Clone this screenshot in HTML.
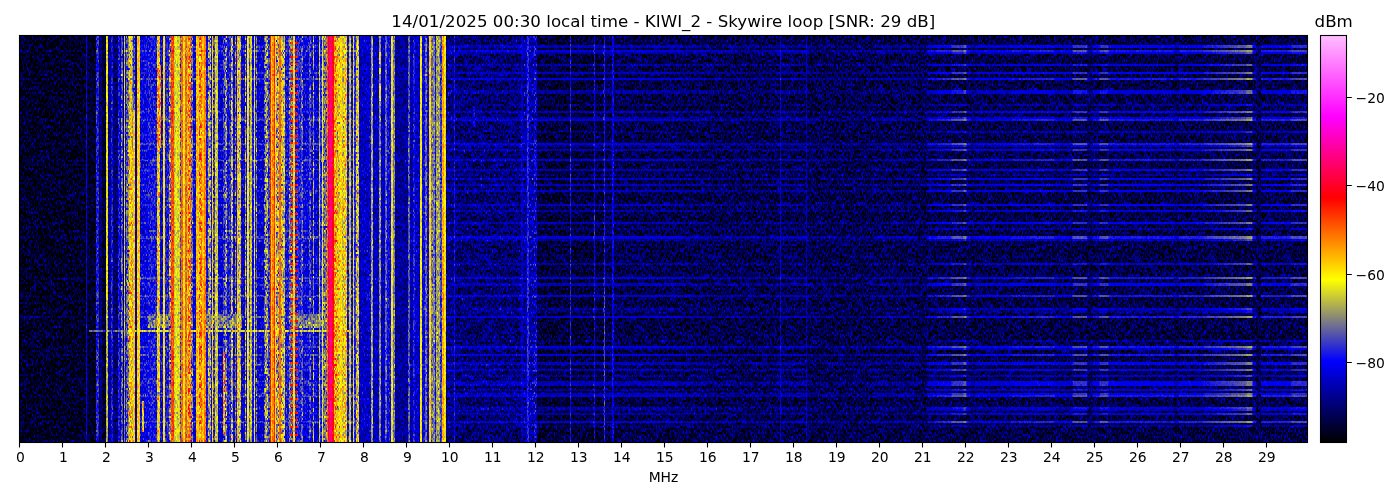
<!DOCTYPE html>
<html lang="en"><head><meta charset="utf-8"><title>KIWI_2 spectrogram</title>
<style>html,body{margin:0;padding:0;background:#fff}svg{display:block}text{font-family:"DejaVu Sans","Liberation Sans",sans-serif;fill:#000}.l{mix-blend-mode:lighten}</style></head><body>
<svg width="1400" height="500" viewBox="0 0 1400 500">
<defs>
<filter id="sp" filterUnits="userSpaceOnUse" x="19.5" y="35" width="1287" height="406" color-interpolation-filters="sRGB">
<feTurbulence type="fractalNoise" baseFrequency="3.37 2.71" numOctaves="1" seed="7" result="n"/>
<feColorMatrix in="n" type="matrix" values="1 0 0 0 0 1 0 0 0 0 1 0 0 0 0 0 0 0 0 1" result="n1"/>
<feFlood flood-color="#fff" x="19.5" y="35" width="1287" height="1" result="fl"/>
<feOffset in="fl" dx="0" dy="0" x="19.5" y="35" width="1287" height="2" result="tl"/>
<feTile in="tl" result="msk"/>
<feComposite in="n1" in2="msk" operator="in" result="r0"/>
<feOffset in="r0" dx="0" dy="1" result="r1"/>
<feMerge result="nm"><feMergeNode in="r0"/><feMergeNode in="r1"/></feMerge>
<feConvolveMatrix in="nm" order="3 1" kernelMatrix="0.07 0.86 0.07" edgeMode="duplicate" preserveAlpha="true" result="ng"/>
<feColorMatrix in="SourceGraphic" type="matrix" values="1 0 0 0 0 1 0 0 0 0 1 0 0 0 0 0 0 0 0 1" result="lvl"/>
<feColorMatrix in="SourceGraphic" type="matrix" values="0 1 0 0 0 0 1 0 0 0 0 1 0 0 0 0 0 0 0 1" result="amp"/>
<feComposite in="ng" in2="amp" operator="arithmetic" k1="1.0" k2="0" k3="-0.5" k4="0.5" result="dn"/>
<feComposite in="lvl" in2="dn" operator="arithmetic" k1="0" k2="1" k3="1" k4="-0.5" result="s"/>
<feComponentTransfer in="s"><feFuncR type="table" tableValues="0 0 1 1 1 1"/><feFuncG type="table" tableValues="0 0 1 0 0 1"/><feFuncB type="table" tableValues="0 1 0 0 1 1"/></feComponentTransfer>
</filter>
<linearGradient id="b0" gradientUnits="userSpaceOnUse" x1="446" y1="0" x2="1308" y2="0"><stop offset="0.0000" stop-color="#674c00"/><stop offset="0.0000" stop-color="#198500"/><stop offset="0.0023" stop-color="#276000"/><stop offset="0.0093" stop-color="#276000"/><stop offset="0.0093" stop-color="#354200"/><stop offset="0.0104" stop-color="#354200"/><stop offset="0.0104" stop-color="#265600"/><stop offset="0.0864" stop-color="#265600"/><stop offset="0.0864" stop-color="#2d4200"/><stop offset="0.0893" stop-color="#2d4200"/><stop offset="0.0893" stop-color="#286f00"/><stop offset="0.0928" stop-color="#286f00"/><stop offset="0.0928" stop-color="#2c4200"/><stop offset="0.0940" stop-color="#2c4200"/><stop offset="0.0940" stop-color="#3c4200"/><stop offset="0.0957" stop-color="#3c4200"/><stop offset="0.0957" stop-color="#2a8100"/><stop offset="0.1015" stop-color="#2a8100"/><stop offset="0.1015" stop-color="#2f8500"/><stop offset="0.1056" stop-color="#2f8500"/><stop offset="0.1056" stop-color="#242500"/><stop offset="0.1439" stop-color="#242500"/><stop offset="0.1439" stop-color="#374200"/><stop offset="0.1450" stop-color="#374200"/><stop offset="0.1450" stop-color="#242500"/><stop offset="0.1711" stop-color="#242500"/><stop offset="0.1711" stop-color="#334200"/><stop offset="0.1729" stop-color="#334200"/><stop offset="0.1729" stop-color="#242500"/><stop offset="0.1827" stop-color="#242500"/><stop offset="0.1827" stop-color="#374200"/><stop offset="0.1845" stop-color="#374200"/><stop offset="0.1845" stop-color="#253800"/><stop offset="0.1926" stop-color="#253800"/><stop offset="0.1926" stop-color="#334200"/><stop offset="0.1943" stop-color="#334200"/><stop offset="0.1943" stop-color="#253800"/><stop offset="0.2715" stop-color="#253800"/><stop offset="0.2761" stop-color="#205000"/><stop offset="0.3028" stop-color="#205000"/><stop offset="0.3063" stop-color="#1b6b00"/><stop offset="0.3179" stop-color="#1b6b00"/><stop offset="0.3179" stop-color="#1b6d00"/><stop offset="0.3817" stop-color="#1b6d00"/><stop offset="0.3840" stop-color="#214c00"/><stop offset="0.3875" stop-color="#214c00"/><stop offset="0.3875" stop-color="#2e4200"/><stop offset="0.3886" stop-color="#2e4200"/><stop offset="0.3886" stop-color="#214a00"/><stop offset="0.4165" stop-color="#214a00"/><stop offset="0.4176" stop-color="#1e5d00"/><stop offset="0.4176" stop-color="#284200"/><stop offset="0.4188" stop-color="#274200"/><stop offset="0.4188" stop-color="#1a6e00"/><stop offset="0.4200" stop-color="#187d00"/><stop offset="0.4930" stop-color="#187d00"/><stop offset="0.4965" stop-color="#1e5b00"/><stop offset="0.5476" stop-color="#1e5b00"/><stop offset="0.5487" stop-color="#158500"/><stop offset="0.5568" stop-color="#158500"/><stop offset="0.5592" stop-color="#2d1400"/><stop offset="0.5696" stop-color="#2d1400"/><stop offset="0.5708" stop-color="#321400"/><stop offset="0.5858" stop-color="#321400"/><stop offset="0.5870" stop-color="#3c1400"/><stop offset="0.5998" stop-color="#3c1400"/><stop offset="0.6009" stop-color="#451400"/><stop offset="0.6032" stop-color="#451400"/><stop offset="0.6044" stop-color="#301400"/><stop offset="0.6079" stop-color="#301400"/><stop offset="0.6090" stop-color="#233e00"/><stop offset="0.6137" stop-color="#233e00"/><stop offset="0.6148" stop-color="#2b1700"/><stop offset="0.6555" stop-color="#2b1700"/><stop offset="0.6566" stop-color="#301400"/><stop offset="0.6833" stop-color="#301400"/><stop offset="0.6845" stop-color="#321400"/><stop offset="0.7053" stop-color="#321400"/><stop offset="0.7065" stop-color="#2b1700"/><stop offset="0.7262" stop-color="#2b1700"/><stop offset="0.7274" stop-color="#3c1400"/><stop offset="0.7436" stop-color="#3c1400"/><stop offset="0.7448" stop-color="#1f5600"/><stop offset="0.7494" stop-color="#1f5600"/><stop offset="0.7506" stop-color="#301400"/><stop offset="0.7575" stop-color="#301400"/><stop offset="0.7587" stop-color="#3c1400"/><stop offset="0.7680" stop-color="#3c1400"/><stop offset="0.7691" stop-color="#301400"/><stop offset="0.8445" stop-color="#301400"/><stop offset="0.8457" stop-color="#263200"/><stop offset="0.8492" stop-color="#263200"/><stop offset="0.8503" stop-color="#311400"/><stop offset="0.8782" stop-color="#311400"/><stop offset="0.8794" stop-color="#351400"/><stop offset="0.9037" stop-color="#3d1400"/><stop offset="0.9281" stop-color="#451400"/><stop offset="0.9292" stop-color="#4c1400"/><stop offset="0.9350" stop-color="#4c1400"/><stop offset="0.9362" stop-color="#301400"/><stop offset="0.9397" stop-color="#301400"/><stop offset="0.9408" stop-color="#118500"/><stop offset="0.9449" stop-color="#118500"/><stop offset="0.9461" stop-color="#311400"/><stop offset="0.9791" stop-color="#311400"/><stop offset="0.9814" stop-color="#3b1400"/><stop offset="1.0000" stop-color="#3b1400"/></linearGradient>
<linearGradient id="b1" gradientUnits="userSpaceOnUse" x1="446" y1="0" x2="1308" y2="0"><stop offset="0.0000" stop-color="#674c00"/><stop offset="0.0000" stop-color="#1a8500"/><stop offset="0.0023" stop-color="#2c4400"/><stop offset="0.0093" stop-color="#2c4400"/><stop offset="0.0093" stop-color="#374200"/><stop offset="0.0104" stop-color="#374200"/><stop offset="0.0104" stop-color="#2c3800"/><stop offset="0.0864" stop-color="#2c3800"/><stop offset="0.0864" stop-color="#313e00"/><stop offset="0.0893" stop-color="#313e00"/><stop offset="0.0893" stop-color="#2d5600"/><stop offset="0.0928" stop-color="#2d5600"/><stop offset="0.0928" stop-color="#2f3a00"/><stop offset="0.0940" stop-color="#2f3a00"/><stop offset="0.0940" stop-color="#3d4200"/><stop offset="0.0957" stop-color="#3d4200"/><stop offset="0.0957" stop-color="#2e6b00"/><stop offset="0.1015" stop-color="#2e6b00"/><stop offset="0.1015" stop-color="#328400"/><stop offset="0.1056" stop-color="#328400"/><stop offset="0.1056" stop-color="#2a1400"/><stop offset="0.1439" stop-color="#2a1400"/><stop offset="0.1439" stop-color="#394200"/><stop offset="0.1450" stop-color="#394200"/><stop offset="0.1450" stop-color="#2a1400"/><stop offset="0.1711" stop-color="#2a1400"/><stop offset="0.1711" stop-color="#354200"/><stop offset="0.1729" stop-color="#354200"/><stop offset="0.1729" stop-color="#2a1400"/><stop offset="0.1827" stop-color="#2a1400"/><stop offset="0.1827" stop-color="#394200"/><stop offset="0.1845" stop-color="#394200"/><stop offset="0.1845" stop-color="#2b1700"/><stop offset="0.1926" stop-color="#2b1700"/><stop offset="0.1926" stop-color="#354200"/><stop offset="0.1943" stop-color="#354200"/><stop offset="0.1943" stop-color="#2b1700"/><stop offset="0.2715" stop-color="#2b1700"/><stop offset="0.2761" stop-color="#263200"/><stop offset="0.3028" stop-color="#263200"/><stop offset="0.3063" stop-color="#205000"/><stop offset="0.3179" stop-color="#205000"/><stop offset="0.3179" stop-color="#205200"/><stop offset="0.3817" stop-color="#205200"/><stop offset="0.3840" stop-color="#272e00"/><stop offset="0.3875" stop-color="#272e00"/><stop offset="0.3875" stop-color="#304200"/><stop offset="0.3886" stop-color="#304200"/><stop offset="0.3886" stop-color="#272b00"/><stop offset="0.4165" stop-color="#272b00"/><stop offset="0.4176" stop-color="#234000"/><stop offset="0.4176" stop-color="#2b4200"/><stop offset="0.4188" stop-color="#294200"/><stop offset="0.4188" stop-color="#1f5400"/><stop offset="0.4200" stop-color="#1c6600"/><stop offset="0.4930" stop-color="#1c6600"/><stop offset="0.4965" stop-color="#233e00"/><stop offset="0.5476" stop-color="#233e00"/><stop offset="0.5487" stop-color="#187800"/><stop offset="0.5568" stop-color="#187800"/><stop offset="0.5592" stop-color="#341400"/><stop offset="0.5696" stop-color="#341400"/><stop offset="0.5708" stop-color="#391400"/><stop offset="0.5858" stop-color="#391400"/><stop offset="0.5870" stop-color="#431400"/><stop offset="0.5998" stop-color="#431400"/><stop offset="0.6009" stop-color="#4c1400"/><stop offset="0.6032" stop-color="#4c1400"/><stop offset="0.6044" stop-color="#361400"/><stop offset="0.6079" stop-color="#361400"/><stop offset="0.6090" stop-color="#291e00"/><stop offset="0.6137" stop-color="#291e00"/><stop offset="0.6148" stop-color="#311400"/><stop offset="0.6555" stop-color="#311400"/><stop offset="0.6566" stop-color="#361400"/><stop offset="0.6833" stop-color="#361400"/><stop offset="0.6845" stop-color="#391400"/><stop offset="0.7053" stop-color="#391400"/><stop offset="0.7065" stop-color="#311400"/><stop offset="0.7262" stop-color="#311400"/><stop offset="0.7274" stop-color="#431400"/><stop offset="0.7436" stop-color="#431400"/><stop offset="0.7448" stop-color="#253800"/><stop offset="0.7494" stop-color="#253800"/><stop offset="0.7506" stop-color="#361400"/><stop offset="0.7575" stop-color="#361400"/><stop offset="0.7587" stop-color="#431400"/><stop offset="0.7680" stop-color="#431400"/><stop offset="0.7691" stop-color="#361400"/><stop offset="0.8445" stop-color="#361400"/><stop offset="0.8457" stop-color="#2c1400"/><stop offset="0.8492" stop-color="#2c1400"/><stop offset="0.8503" stop-color="#381400"/><stop offset="0.8782" stop-color="#381400"/><stop offset="0.8794" stop-color="#3c1400"/><stop offset="0.9037" stop-color="#441400"/><stop offset="0.9281" stop-color="#4c1400"/><stop offset="0.9292" stop-color="#531400"/><stop offset="0.9350" stop-color="#531400"/><stop offset="0.9362" stop-color="#361400"/><stop offset="0.9397" stop-color="#361400"/><stop offset="0.9408" stop-color="#128500"/><stop offset="0.9449" stop-color="#128500"/><stop offset="0.9461" stop-color="#381400"/><stop offset="0.9791" stop-color="#381400"/><stop offset="0.9814" stop-color="#411400"/><stop offset="1.0000" stop-color="#411400"/></linearGradient>
<linearGradient id="b2" gradientUnits="userSpaceOnUse" x1="446" y1="0" x2="1308" y2="0"><stop offset="0.0000" stop-color="#674c00"/><stop offset="0.0000" stop-color="#188500"/><stop offset="0.0023" stop-color="#237400"/><stop offset="0.0093" stop-color="#237400"/><stop offset="0.0093" stop-color="#344200"/><stop offset="0.0104" stop-color="#344200"/><stop offset="0.0104" stop-color="#226b00"/><stop offset="0.0864" stop-color="#226b00"/><stop offset="0.0864" stop-color="#2b4200"/><stop offset="0.0893" stop-color="#2b4200"/><stop offset="0.0893" stop-color="#258100"/><stop offset="0.0928" stop-color="#258100"/><stop offset="0.0928" stop-color="#294200"/><stop offset="0.0940" stop-color="#294200"/><stop offset="0.0940" stop-color="#3b4200"/><stop offset="0.0957" stop-color="#3b4200"/><stop offset="0.0957" stop-color="#288500"/><stop offset="0.1015" stop-color="#288500"/><stop offset="0.1015" stop-color="#2d8500"/><stop offset="0.1056" stop-color="#2d8500"/><stop offset="0.1056" stop-color="#1f3e00"/><stop offset="0.1439" stop-color="#1f3e00"/><stop offset="0.1439" stop-color="#364200"/><stop offset="0.1450" stop-color="#364200"/><stop offset="0.1450" stop-color="#1f3e00"/><stop offset="0.1711" stop-color="#1f3e00"/><stop offset="0.1711" stop-color="#324200"/><stop offset="0.1729" stop-color="#324200"/><stop offset="0.1729" stop-color="#1f3e00"/><stop offset="0.1827" stop-color="#1f3e00"/><stop offset="0.1827" stop-color="#364200"/><stop offset="0.1845" stop-color="#364200"/><stop offset="0.1845" stop-color="#205000"/><stop offset="0.1926" stop-color="#205000"/><stop offset="0.1926" stop-color="#324200"/><stop offset="0.1943" stop-color="#324200"/><stop offset="0.1943" stop-color="#205000"/><stop offset="0.2715" stop-color="#205000"/><stop offset="0.2761" stop-color="#1c6600"/><stop offset="0.3028" stop-color="#1c6600"/><stop offset="0.3063" stop-color="#187d00"/><stop offset="0.3179" stop-color="#187d00"/><stop offset="0.3179" stop-color="#187e00"/><stop offset="0.3817" stop-color="#187e00"/><stop offset="0.3840" stop-color="#1d6300"/><stop offset="0.3875" stop-color="#1d6300"/><stop offset="0.3875" stop-color="#2c4200"/><stop offset="0.3886" stop-color="#2c4200"/><stop offset="0.3886" stop-color="#1d6000"/><stop offset="0.4165" stop-color="#1d6000"/><stop offset="0.4176" stop-color="#1a7100"/><stop offset="0.4176" stop-color="#274200"/><stop offset="0.4188" stop-color="#264200"/><stop offset="0.4188" stop-color="#177f00"/><stop offset="0.4200" stop-color="#158500"/><stop offset="0.4930" stop-color="#158500"/><stop offset="0.4965" stop-color="#1a6f00"/><stop offset="0.5476" stop-color="#1a6f00"/><stop offset="0.5487" stop-color="#138500"/><stop offset="0.5568" stop-color="#138500"/><stop offset="0.5592" stop-color="#282500"/><stop offset="0.5696" stop-color="#282500"/><stop offset="0.5708" stop-color="#2d1400"/><stop offset="0.5858" stop-color="#2d1400"/><stop offset="0.5870" stop-color="#361400"/><stop offset="0.5998" stop-color="#361400"/><stop offset="0.6009" stop-color="#401400"/><stop offset="0.6032" stop-color="#401400"/><stop offset="0.6044" stop-color="#2b1700"/><stop offset="0.6079" stop-color="#2b1700"/><stop offset="0.6090" stop-color="#1f5600"/><stop offset="0.6137" stop-color="#1f5600"/><stop offset="0.6148" stop-color="#263200"/><stop offset="0.6555" stop-color="#263200"/><stop offset="0.6566" stop-color="#2b1700"/><stop offset="0.6833" stop-color="#2b1700"/><stop offset="0.6845" stop-color="#2d1400"/><stop offset="0.7053" stop-color="#2d1400"/><stop offset="0.7065" stop-color="#263200"/><stop offset="0.7262" stop-color="#263200"/><stop offset="0.7274" stop-color="#361400"/><stop offset="0.7436" stop-color="#361400"/><stop offset="0.7448" stop-color="#1b6b00"/><stop offset="0.7494" stop-color="#1b6b00"/><stop offset="0.7506" stop-color="#2b1700"/><stop offset="0.7575" stop-color="#2b1700"/><stop offset="0.7587" stop-color="#361400"/><stop offset="0.7680" stop-color="#361400"/><stop offset="0.7691" stop-color="#2b1700"/><stop offset="0.8445" stop-color="#2b1700"/><stop offset="0.8457" stop-color="#214a00"/><stop offset="0.8492" stop-color="#214a00"/><stop offset="0.8503" stop-color="#2c1400"/><stop offset="0.8782" stop-color="#2c1400"/><stop offset="0.8794" stop-color="#301400"/><stop offset="0.9037" stop-color="#381400"/><stop offset="0.9281" stop-color="#401400"/><stop offset="0.9292" stop-color="#471400"/><stop offset="0.9350" stop-color="#471400"/><stop offset="0.9362" stop-color="#2b1700"/><stop offset="0.9397" stop-color="#2b1700"/><stop offset="0.9408" stop-color="#108500"/><stop offset="0.9449" stop-color="#108500"/><stop offset="0.9461" stop-color="#2c1400"/><stop offset="0.9791" stop-color="#2c1400"/><stop offset="0.9814" stop-color="#351400"/><stop offset="1.0000" stop-color="#351400"/></linearGradient>
<linearGradient id="b3" gradientUnits="userSpaceOnUse" x1="446" y1="0" x2="1308" y2="0"><stop offset="0.0000" stop-color="#674c00"/><stop offset="0.0000" stop-color="#188500"/><stop offset="0.0023" stop-color="#1c8500"/><stop offset="0.0093" stop-color="#1c8500"/><stop offset="0.0093" stop-color="#324200"/><stop offset="0.0104" stop-color="#324200"/><stop offset="0.0104" stop-color="#1a8500"/><stop offset="0.0864" stop-color="#1a8500"/><stop offset="0.0864" stop-color="#284200"/><stop offset="0.0893" stop-color="#284200"/><stop offset="0.0893" stop-color="#1f8500"/><stop offset="0.0928" stop-color="#1f8500"/><stop offset="0.0928" stop-color="#264200"/><stop offset="0.0940" stop-color="#264200"/><stop offset="0.0940" stop-color="#3a4200"/><stop offset="0.0957" stop-color="#3a4200"/><stop offset="0.0957" stop-color="#238500"/><stop offset="0.1015" stop-color="#238500"/><stop offset="0.1015" stop-color="#2b8500"/><stop offset="0.1056" stop-color="#2b8500"/><stop offset="0.1056" stop-color="#147d00"/><stop offset="0.1439" stop-color="#147d00"/><stop offset="0.1439" stop-color="#354200"/><stop offset="0.1450" stop-color="#354200"/><stop offset="0.1450" stop-color="#147d00"/><stop offset="0.1711" stop-color="#147d00"/><stop offset="0.1711" stop-color="#304200"/><stop offset="0.1729" stop-color="#304200"/><stop offset="0.1729" stop-color="#147d00"/><stop offset="0.1827" stop-color="#147d00"/><stop offset="0.1827" stop-color="#354200"/><stop offset="0.1845" stop-color="#354200"/><stop offset="0.1845" stop-color="#168500"/><stop offset="0.1926" stop-color="#168500"/><stop offset="0.1926" stop-color="#304200"/><stop offset="0.1943" stop-color="#304200"/><stop offset="0.1943" stop-color="#168500"/><stop offset="0.2715" stop-color="#168500"/><stop offset="0.2761" stop-color="#138500"/><stop offset="0.3028" stop-color="#138500"/><stop offset="0.3063" stop-color="#118500"/><stop offset="0.3179" stop-color="#118500"/><stop offset="0.3179" stop-color="#128500"/><stop offset="0.3817" stop-color="#128500"/><stop offset="0.3840" stop-color="#148500"/><stop offset="0.3875" stop-color="#148500"/><stop offset="0.3875" stop-color="#2a4200"/><stop offset="0.3886" stop-color="#2a4200"/><stop offset="0.3886" stop-color="#148500"/><stop offset="0.4165" stop-color="#148500"/><stop offset="0.4176" stop-color="#128500"/><stop offset="0.4176" stop-color="#254200"/><stop offset="0.4188" stop-color="#254200"/><stop offset="0.4188" stop-color="#118500"/><stop offset="0.4200" stop-color="#108500"/><stop offset="0.4930" stop-color="#108500"/><stop offset="0.4965" stop-color="#128500"/><stop offset="0.5476" stop-color="#128500"/><stop offset="0.5487" stop-color="#0f8500"/><stop offset="0.5568" stop-color="#0f8500"/><stop offset="0.5592" stop-color="#1b6b00"/><stop offset="0.5696" stop-color="#1b6b00"/><stop offset="0.5708" stop-color="#1f5600"/><stop offset="0.5858" stop-color="#1f5600"/><stop offset="0.5870" stop-color="#272b00"/><stop offset="0.5998" stop-color="#272b00"/><stop offset="0.6009" stop-color="#301400"/><stop offset="0.6032" stop-color="#301400"/><stop offset="0.6044" stop-color="#1d6000"/><stop offset="0.6079" stop-color="#1d6000"/><stop offset="0.6090" stop-color="#158500"/><stop offset="0.6137" stop-color="#158500"/><stop offset="0.6148" stop-color="#197400"/><stop offset="0.6555" stop-color="#197400"/><stop offset="0.6566" stop-color="#1d6000"/><stop offset="0.6833" stop-color="#1d6000"/><stop offset="0.6845" stop-color="#1f5600"/><stop offset="0.7053" stop-color="#1f5600"/><stop offset="0.7065" stop-color="#197400"/><stop offset="0.7262" stop-color="#197400"/><stop offset="0.7274" stop-color="#272b00"/><stop offset="0.7436" stop-color="#272b00"/><stop offset="0.7448" stop-color="#138500"/><stop offset="0.7494" stop-color="#138500"/><stop offset="0.7506" stop-color="#1d6000"/><stop offset="0.7575" stop-color="#1d6000"/><stop offset="0.7587" stop-color="#272b00"/><stop offset="0.7680" stop-color="#272b00"/><stop offset="0.7691" stop-color="#1d6000"/><stop offset="0.8445" stop-color="#1d6000"/><stop offset="0.8457" stop-color="#168400"/><stop offset="0.8492" stop-color="#168400"/><stop offset="0.8503" stop-color="#1e5b00"/><stop offset="0.8782" stop-color="#1e5b00"/><stop offset="0.8794" stop-color="#214a00"/><stop offset="0.9037" stop-color="#282500"/><stop offset="0.9281" stop-color="#301400"/><stop offset="0.9292" stop-color="#361400"/><stop offset="0.9350" stop-color="#361400"/><stop offset="0.9362" stop-color="#1d6000"/><stop offset="0.9397" stop-color="#1d6000"/><stop offset="0.9408" stop-color="#0e8500"/><stop offset="0.9449" stop-color="#0e8500"/><stop offset="0.9461" stop-color="#1e5b00"/><stop offset="0.9791" stop-color="#1e5b00"/><stop offset="0.9814" stop-color="#263200"/><stop offset="1.0000" stop-color="#263200"/></linearGradient>
<linearGradient id="b4" gradientUnits="userSpaceOnUse" x1="446" y1="0" x2="1308" y2="0"><stop offset="0.0000" stop-color="#674c00"/><stop offset="0.0000" stop-color="#188500"/><stop offset="0.0023" stop-color="#1d8500"/><stop offset="0.0093" stop-color="#1d8500"/><stop offset="0.0093" stop-color="#334200"/><stop offset="0.0104" stop-color="#334200"/><stop offset="0.0104" stop-color="#1c8500"/><stop offset="0.0864" stop-color="#1c8500"/><stop offset="0.0864" stop-color="#294200"/><stop offset="0.0893" stop-color="#294200"/><stop offset="0.0893" stop-color="#208500"/><stop offset="0.0928" stop-color="#208500"/><stop offset="0.0928" stop-color="#264200"/><stop offset="0.0940" stop-color="#264200"/><stop offset="0.0940" stop-color="#3b4200"/><stop offset="0.0957" stop-color="#3b4200"/><stop offset="0.0957" stop-color="#248500"/><stop offset="0.1015" stop-color="#248500"/><stop offset="0.1015" stop-color="#2b8500"/><stop offset="0.1056" stop-color="#2b8500"/><stop offset="0.1056" stop-color="#176b00"/><stop offset="0.1439" stop-color="#176b00"/><stop offset="0.1439" stop-color="#354200"/><stop offset="0.1450" stop-color="#354200"/><stop offset="0.1450" stop-color="#176b00"/><stop offset="0.1711" stop-color="#176b00"/><stop offset="0.1711" stop-color="#304200"/><stop offset="0.1729" stop-color="#304200"/><stop offset="0.1729" stop-color="#176b00"/><stop offset="0.1827" stop-color="#176b00"/><stop offset="0.1827" stop-color="#354200"/><stop offset="0.1845" stop-color="#354200"/><stop offset="0.1845" stop-color="#187800"/><stop offset="0.1926" stop-color="#187800"/><stop offset="0.1926" stop-color="#304200"/><stop offset="0.1943" stop-color="#304200"/><stop offset="0.1943" stop-color="#187800"/><stop offset="0.2715" stop-color="#187800"/><stop offset="0.2761" stop-color="#168500"/><stop offset="0.3028" stop-color="#168500"/><stop offset="0.3063" stop-color="#138500"/><stop offset="0.3179" stop-color="#138500"/><stop offset="0.3817" stop-color="#138500"/><stop offset="0.3840" stop-color="#168500"/><stop offset="0.3875" stop-color="#168500"/><stop offset="0.3875" stop-color="#2b4200"/><stop offset="0.3886" stop-color="#2b4200"/><stop offset="0.3886" stop-color="#168400"/><stop offset="0.4165" stop-color="#168400"/><stop offset="0.4176" stop-color="#148500"/><stop offset="0.4176" stop-color="#254200"/><stop offset="0.4188" stop-color="#254200"/><stop offset="0.4188" stop-color="#128500"/><stop offset="0.4200" stop-color="#118500"/><stop offset="0.4930" stop-color="#118500"/><stop offset="0.4965" stop-color="#148500"/><stop offset="0.5476" stop-color="#148500"/><stop offset="0.5487" stop-color="#108500"/><stop offset="0.5568" stop-color="#108500"/><stop offset="0.5592" stop-color="#1f5600"/><stop offset="0.5696" stop-color="#1f5600"/><stop offset="0.5708" stop-color="#233e00"/><stop offset="0.5858" stop-color="#233e00"/><stop offset="0.5870" stop-color="#2c1400"/><stop offset="0.5998" stop-color="#2c1400"/><stop offset="0.6009" stop-color="#351400"/><stop offset="0.6032" stop-color="#351400"/><stop offset="0.6044" stop-color="#214a00"/><stop offset="0.6079" stop-color="#214a00"/><stop offset="0.6090" stop-color="#187d00"/><stop offset="0.6137" stop-color="#187d00"/><stop offset="0.6148" stop-color="#1d6000"/><stop offset="0.6555" stop-color="#1d6000"/><stop offset="0.6566" stop-color="#214a00"/><stop offset="0.6833" stop-color="#214a00"/><stop offset="0.6845" stop-color="#233e00"/><stop offset="0.7053" stop-color="#233e00"/><stop offset="0.7065" stop-color="#1d6000"/><stop offset="0.7262" stop-color="#1d6000"/><stop offset="0.7274" stop-color="#2c1400"/><stop offset="0.7436" stop-color="#2c1400"/><stop offset="0.7448" stop-color="#158500"/><stop offset="0.7494" stop-color="#158500"/><stop offset="0.7506" stop-color="#214a00"/><stop offset="0.7575" stop-color="#214a00"/><stop offset="0.7587" stop-color="#2c1400"/><stop offset="0.7680" stop-color="#2c1400"/><stop offset="0.7691" stop-color="#214a00"/><stop offset="0.8445" stop-color="#214a00"/><stop offset="0.8457" stop-color="#197400"/><stop offset="0.8492" stop-color="#197400"/><stop offset="0.8503" stop-color="#224400"/><stop offset="0.8782" stop-color="#224400"/><stop offset="0.8794" stop-color="#263200"/><stop offset="0.9037" stop-color="#2d1400"/><stop offset="0.9281" stop-color="#351400"/><stop offset="0.9292" stop-color="#3c1400"/><stop offset="0.9350" stop-color="#3c1400"/><stop offset="0.9362" stop-color="#214a00"/><stop offset="0.9397" stop-color="#214a00"/><stop offset="0.9408" stop-color="#0f8500"/><stop offset="0.9449" stop-color="#0f8500"/><stop offset="0.9461" stop-color="#224400"/><stop offset="0.9791" stop-color="#224400"/><stop offset="0.9814" stop-color="#2b1700"/><stop offset="1.0000" stop-color="#2b1700"/></linearGradient>
<linearGradient id="b5" gradientUnits="userSpaceOnUse" x1="446" y1="0" x2="1308" y2="0"><stop offset="0.0000" stop-color="#674c00"/><stop offset="0.0000" stop-color="#188500"/><stop offset="0.0023" stop-color="#208400"/><stop offset="0.0093" stop-color="#208400"/><stop offset="0.0093" stop-color="#334200"/><stop offset="0.0104" stop-color="#334200"/><stop offset="0.0104" stop-color="#1f7d00"/><stop offset="0.0864" stop-color="#1f7d00"/><stop offset="0.0864" stop-color="#2a4200"/><stop offset="0.0893" stop-color="#2a4200"/><stop offset="0.0893" stop-color="#228500"/><stop offset="0.0928" stop-color="#228500"/><stop offset="0.0928" stop-color="#284200"/><stop offset="0.0940" stop-color="#284200"/><stop offset="0.0940" stop-color="#3b4200"/><stop offset="0.0957" stop-color="#3b4200"/><stop offset="0.0957" stop-color="#268500"/><stop offset="0.1015" stop-color="#268500"/><stop offset="0.1015" stop-color="#2c8500"/><stop offset="0.1056" stop-color="#2c8500"/><stop offset="0.1056" stop-color="#1b5600"/><stop offset="0.1439" stop-color="#1b5600"/><stop offset="0.1439" stop-color="#364200"/><stop offset="0.1450" stop-color="#364200"/><stop offset="0.1450" stop-color="#1b5600"/><stop offset="0.1711" stop-color="#1b5600"/><stop offset="0.1711" stop-color="#314200"/><stop offset="0.1729" stop-color="#314200"/><stop offset="0.1729" stop-color="#1b5600"/><stop offset="0.1827" stop-color="#1b5600"/><stop offset="0.1827" stop-color="#364200"/><stop offset="0.1845" stop-color="#364200"/><stop offset="0.1845" stop-color="#1c6600"/><stop offset="0.1926" stop-color="#1c6600"/><stop offset="0.1926" stop-color="#314200"/><stop offset="0.1943" stop-color="#314200"/><stop offset="0.1943" stop-color="#1c6600"/><stop offset="0.2715" stop-color="#1c6600"/><stop offset="0.2761" stop-color="#187800"/><stop offset="0.3028" stop-color="#187800"/><stop offset="0.3063" stop-color="#158500"/><stop offset="0.3179" stop-color="#158500"/><stop offset="0.3817" stop-color="#158500"/><stop offset="0.3840" stop-color="#1a7600"/><stop offset="0.3875" stop-color="#1a7600"/><stop offset="0.3875" stop-color="#2b4200"/><stop offset="0.3886" stop-color="#2b4200"/><stop offset="0.3886" stop-color="#197400"/><stop offset="0.4165" stop-color="#197400"/><stop offset="0.4176" stop-color="#178200"/><stop offset="0.4176" stop-color="#264200"/><stop offset="0.4188" stop-color="#254200"/><stop offset="0.4188" stop-color="#148500"/><stop offset="0.4200" stop-color="#138500"/><stop offset="0.4930" stop-color="#138500"/><stop offset="0.4965" stop-color="#178100"/><stop offset="0.5476" stop-color="#178100"/><stop offset="0.5487" stop-color="#118500"/><stop offset="0.5568" stop-color="#118500"/><stop offset="0.5592" stop-color="#233e00"/><stop offset="0.5696" stop-color="#233e00"/><stop offset="0.5708" stop-color="#282500"/><stop offset="0.5858" stop-color="#282500"/><stop offset="0.5870" stop-color="#311400"/><stop offset="0.5998" stop-color="#311400"/><stop offset="0.6009" stop-color="#3b1400"/><stop offset="0.6032" stop-color="#3b1400"/><stop offset="0.6044" stop-color="#263200"/><stop offset="0.6079" stop-color="#263200"/><stop offset="0.6090" stop-color="#1b6b00"/><stop offset="0.6137" stop-color="#1b6b00"/><stop offset="0.6148" stop-color="#214a00"/><stop offset="0.6555" stop-color="#214a00"/><stop offset="0.6566" stop-color="#263200"/><stop offset="0.6833" stop-color="#263200"/><stop offset="0.6845" stop-color="#282500"/><stop offset="0.7053" stop-color="#282500"/><stop offset="0.7065" stop-color="#214a00"/><stop offset="0.7262" stop-color="#214a00"/><stop offset="0.7274" stop-color="#311400"/><stop offset="0.7436" stop-color="#311400"/><stop offset="0.7448" stop-color="#187d00"/><stop offset="0.7494" stop-color="#187d00"/><stop offset="0.7506" stop-color="#263200"/><stop offset="0.7575" stop-color="#263200"/><stop offset="0.7587" stop-color="#311400"/><stop offset="0.7680" stop-color="#311400"/><stop offset="0.7691" stop-color="#263200"/><stop offset="0.8445" stop-color="#263200"/><stop offset="0.8457" stop-color="#1d6000"/><stop offset="0.8492" stop-color="#1d6000"/><stop offset="0.8503" stop-color="#272b00"/><stop offset="0.8782" stop-color="#272b00"/><stop offset="0.8794" stop-color="#2b1700"/><stop offset="0.9037" stop-color="#321400"/><stop offset="0.9281" stop-color="#3b1400"/><stop offset="0.9292" stop-color="#411400"/><stop offset="0.9350" stop-color="#411400"/><stop offset="0.9362" stop-color="#263200"/><stop offset="0.9397" stop-color="#263200"/><stop offset="0.9408" stop-color="#0f8500"/><stop offset="0.9449" stop-color="#0f8500"/><stop offset="0.9461" stop-color="#272b00"/><stop offset="0.9791" stop-color="#272b00"/><stop offset="0.9814" stop-color="#301400"/><stop offset="1.0000" stop-color="#301400"/></linearGradient>
<linearGradient id="cb" x1="0" y1="1" x2="0" y2="0"><stop offset="0" stop-color="#000"/><stop offset="0.2" stop-color="#00f"/><stop offset="0.4" stop-color="#ff0"/><stop offset="0.6" stop-color="#f00"/><stop offset="0.8" stop-color="#f0f"/><stop offset="1" stop-color="#ffbeff"/></linearGradient>
</defs>
<g transform="translate(0.5 1)" filter="url(#sp)"><g transform="translate(-0.5 -1)" shape-rendering="crispEdges">
<rect x="20" y="36" width="1287" height="406" fill="#000"/>
<rect x="20" y="36" width="65.5" height="406" fill="#068500"/><rect x="85.5" y="36" width="1.5" height="406" fill="#2c3800"/><rect x="87" y="36" width="9" height="406" fill="#086600"/><rect x="96" y="36" width="2.5" height="406" fill="#376600"/><rect x="98.5" y="36" width="1.5" height="406" fill="#086600"/><rect x="100" y="36" width="2" height="406" fill="#196600"/><rect x="102" y="36" width="4" height="406" fill="#086600"/><rect x="106" y="36" width="2" height="264" fill="#614c00"/><rect x="106" y="300" width="2" height="142" fill="#574c00"/><rect x="108" y="36" width="3" height="406" fill="#1c6600"/><rect x="111" y="36" width="2" height="406" fill="#356600"/><rect x="113" y="36" width="5" height="406" fill="#166600"/><rect x="118" y="36" width="2" height="406" fill="#356600"/><rect x="120" y="36" width="1" height="406" fill="#276600"/><rect x="121" y="36" width="2" height="406" fill="#438500"/><rect x="123" y="36" width="1" height="406" fill="#0b6600"/><rect x="124" y="36" width="1" height="294" fill="#5e4c00"/><rect x="124" y="330" width="1" height="112" fill="#504c00"/><rect x="125" y="36" width="1" height="406" fill="#326600"/><rect x="126" y="36" width="2" height="406" fill="#438500"/><rect x="128" y="36" width="0.5" height="406" fill="#4ead00"/><rect x="128.5" y="36" width="3" height="114" fill="#65ad00"/><rect x="128.5" y="150" width="3" height="292" fill="#6fad00"/><rect x="131.5" y="36" width="1.5" height="114" fill="#504c00"/><rect x="131.5" y="150" width="1.5" height="292" fill="#594c00"/><rect x="133" y="36" width="2" height="74" fill="#408500"/><rect x="133" y="110" width="2" height="332" fill="#724c00"/><rect x="135" y="36" width="2" height="406" fill="#246600"/><rect x="137" y="36" width="2.5" height="406" fill="#6f4c00"/><rect x="139.5" y="36" width="2.5" height="406" fill="#2f6600"/><rect x="142" y="36" width="2" height="365" fill="#2f6600"/><rect x="142" y="401" width="2" height="31" fill="#67ad00"/><rect x="142" y="432" width="2" height="10" fill="#2f6600"/><rect x="144" y="36" width="4" height="406" fill="#2f6600"/><rect x="148" y="36" width="9" height="406" fill="#356600"/><rect x="157" y="36" width="3" height="29" fill="#67ad00"/><rect x="157" y="65" width="3" height="83" fill="#7aad00"/><rect x="157" y="148" width="3" height="294" fill="#67ad00"/><rect x="160" y="36" width="1" height="29" fill="#2f6600"/><rect x="160" y="65" width="1" height="83" fill="#7aad00"/><rect x="160" y="148" width="1" height="294" fill="#2f6600"/><rect x="161" y="36" width="2" height="406" fill="#2f6600"/><rect x="163" y="36" width="1.5" height="406" fill="#694c00"/><rect x="164.5" y="36" width="4.5" height="406" fill="#376600"/><rect x="169" y="36" width="2" height="406" fill="#4ead00"/><rect x="171" y="36" width="2.5" height="406" fill="#8b4c00"/><rect x="173.5" y="36" width="1" height="406" fill="#594c00"/><rect x="174.5" y="36" width="2.5" height="406" fill="#624c00"/><rect x="177" y="36" width="2.5" height="406" fill="#5d4c00"/><rect x="179.5" y="36" width="1.5" height="406" fill="#438500"/><rect x="181" y="36" width="1.5" height="406" fill="#854c00"/><rect x="182.5" y="36" width="2" height="406" fill="#644c00"/><rect x="184.5" y="36" width="2" height="406" fill="#854c00"/><rect x="186.5" y="36" width="1" height="406" fill="#594c00"/><rect x="187.5" y="36" width="3.5" height="406" fill="#80ad00"/><rect x="191" y="36" width="2" height="406" fill="#488500"/><rect x="193" y="36" width="3" height="406" fill="#2c6600"/><rect x="196" y="36" width="1.5" height="406" fill="#744c00"/><rect x="197.5" y="36" width="1.5" height="406" fill="#5e4c00"/><rect x="199" y="36" width="3" height="406" fill="#80ad00"/><rect x="202" y="36" width="1.5" height="406" fill="#724c00"/><rect x="203.5" y="36" width="2.5" height="406" fill="#804c00"/><rect x="206" y="36" width="2" height="406" fill="#326600"/><rect x="208" y="36" width="3" height="406" fill="#53ad00"/><rect x="211" y="36" width="1" height="406" fill="#326600"/><rect x="212" y="36" width="1" height="406" fill="#6f4c00"/><rect x="213" y="36" width="2" height="406" fill="#3d8500"/><rect x="215" y="36" width="2.5" height="406" fill="#5b4c00"/><rect x="217.5" y="36" width="5" height="406" fill="#2a6600"/><rect x="222.5" y="36" width="2.5" height="316" fill="#3d8500"/><rect x="222.5" y="352" width="2.5" height="82" fill="#7aad00"/><rect x="222.5" y="434" width="2.5" height="8" fill="#3d8500"/><rect x="225" y="36" width="2" height="406" fill="#4bad00"/><rect x="227" y="36" width="2" height="406" fill="#326600"/><rect x="229" y="36" width="1.5" height="406" fill="#3a6600"/><rect x="230.5" y="36" width="2.5" height="406" fill="#56ad00"/><rect x="233" y="36" width="2" height="406" fill="#2c6600"/><rect x="235" y="36" width="1" height="406" fill="#488500"/><rect x="236" y="36" width="1" height="406" fill="#326600"/><rect x="237" y="36" width="1" height="406" fill="#724c00"/><rect x="238" y="36" width="3" height="406" fill="#5ead00"/><rect x="241" y="36" width="4" height="406" fill="#2c6600"/><rect x="245" y="36" width="1" height="406" fill="#53ad00"/><rect x="246" y="36" width="1" height="406" fill="#326600"/><rect x="247" y="36" width="2" height="406" fill="#674c00"/><rect x="249" y="36" width="1" height="406" fill="#438500"/><rect x="250" y="36" width="2" height="406" fill="#594c00"/><rect x="252" y="36" width="2" height="406" fill="#326600"/><rect x="254" y="36" width="1" height="406" fill="#614c00"/><rect x="255" y="36" width="1" height="406" fill="#376600"/><rect x="256" y="36" width="1" height="406" fill="#488500"/><rect x="257" y="36" width="7" height="406" fill="#2a6600"/><rect x="264" y="36" width="1" height="406" fill="#408500"/><rect x="265" y="36" width="3" height="406" fill="#50ad00"/><rect x="268" y="36" width="2" height="406" fill="#3d8500"/><rect x="270" y="36" width="1" height="406" fill="#964c00"/><rect x="271" y="36" width="1" height="406" fill="#6f4c00"/><rect x="272" y="36" width="2" height="406" fill="#7d4c00"/><rect x="274" y="36" width="1" height="406" fill="#934c00"/><rect x="275" y="36" width="1" height="406" fill="#694c00"/><rect x="276" y="36" width="3" height="406" fill="#53ad00"/><rect x="279" y="36" width="2" height="406" fill="#854c00"/><rect x="281" y="36" width="4" height="406" fill="#5bad00"/><rect x="285" y="36" width="4" height="406" fill="#356600"/><rect x="289" y="36" width="1" height="406" fill="#488500"/><rect x="290" y="36" width="3" height="5.9" fill="#488500"/><rect x="290" y="41.9" width="3" height="2" fill="#964c00"/><rect x="290" y="43.9" width="3" height="5.1" fill="#488500"/><rect x="290" y="49" width="3" height="2" fill="#964c00"/><rect x="290" y="51" width="3" height="5.1" fill="#488500"/><rect x="290" y="56.1" width="3" height="2" fill="#964c00"/><rect x="290" y="58.1" width="3" height="5.2" fill="#488500"/><rect x="290" y="63.3" width="3" height="2" fill="#964c00"/><rect x="290" y="65.3" width="3" height="5.1" fill="#488500"/><rect x="290" y="70.4" width="3" height="2" fill="#964c00"/><rect x="290" y="72.4" width="3" height="5.1" fill="#488500"/><rect x="290" y="77.5" width="3" height="2" fill="#964c00"/><rect x="290" y="79.5" width="3" height="5.1" fill="#488500"/><rect x="290" y="84.6" width="3" height="2" fill="#964c00"/><rect x="290" y="86.6" width="3" height="5.1" fill="#488500"/><rect x="290" y="91.7" width="3" height="2" fill="#964c00"/><rect x="290" y="93.7" width="3" height="5.2" fill="#488500"/><rect x="290" y="98.9" width="3" height="2" fill="#964c00"/><rect x="290" y="100.9" width="3" height="5.1" fill="#488500"/><rect x="290" y="106" width="3" height="2" fill="#964c00"/><rect x="290" y="108" width="3" height="5.1" fill="#488500"/><rect x="290" y="113.1" width="3" height="2" fill="#964c00"/><rect x="290" y="115.1" width="3" height="5.1" fill="#488500"/><rect x="290" y="120.2" width="3" height="2" fill="#964c00"/><rect x="290" y="122.2" width="3" height="5.1" fill="#488500"/><rect x="290" y="127.3" width="3" height="2" fill="#964c00"/><rect x="290" y="129.3" width="3" height="5.2" fill="#488500"/><rect x="290" y="134.5" width="3" height="2" fill="#964c00"/><rect x="290" y="136.5" width="3" height="5.1" fill="#488500"/><rect x="290" y="141.6" width="3" height="2" fill="#964c00"/><rect x="290" y="143.6" width="3" height="5.1" fill="#488500"/><rect x="290" y="148.7" width="3" height="2" fill="#964c00"/><rect x="290" y="150.7" width="3" height="5.1" fill="#488500"/><rect x="290" y="155.8" width="3" height="2" fill="#964c00"/><rect x="290" y="157.8" width="3" height="5.1" fill="#488500"/><rect x="290" y="162.9" width="3" height="2" fill="#964c00"/><rect x="290" y="164.9" width="3" height="5.2" fill="#488500"/><rect x="290" y="170.1" width="3" height="2" fill="#964c00"/><rect x="290" y="172.1" width="3" height="5.1" fill="#488500"/><rect x="290" y="177.2" width="3" height="2" fill="#964c00"/><rect x="290" y="179.2" width="3" height="5.1" fill="#488500"/><rect x="290" y="184.3" width="3" height="2" fill="#964c00"/><rect x="290" y="186.3" width="3" height="5.1" fill="#488500"/><rect x="290" y="191.4" width="3" height="2" fill="#964c00"/><rect x="290" y="193.4" width="3" height="5.1" fill="#488500"/><rect x="290" y="198.5" width="3" height="2" fill="#964c00"/><rect x="290" y="200.5" width="3" height="5.2" fill="#488500"/><rect x="290" y="205.7" width="3" height="2" fill="#964c00"/><rect x="290" y="207.7" width="3" height="5.1" fill="#488500"/><rect x="290" y="212.8" width="3" height="2" fill="#964c00"/><rect x="290" y="214.8" width="3" height="5.1" fill="#488500"/><rect x="290" y="219.9" width="3" height="2" fill="#964c00"/><rect x="290" y="221.9" width="3" height="5.1" fill="#488500"/><rect x="290" y="227" width="3" height="2" fill="#964c00"/><rect x="290" y="229" width="3" height="5.1" fill="#488500"/><rect x="290" y="234.1" width="3" height="2" fill="#964c00"/><rect x="290" y="236.1" width="3" height="5.2" fill="#488500"/><rect x="290" y="241.3" width="3" height="2" fill="#964c00"/><rect x="290" y="243.3" width="3" height="5.1" fill="#488500"/><rect x="290" y="248.4" width="3" height="2" fill="#964c00"/><rect x="290" y="250.4" width="3" height="5.1" fill="#488500"/><rect x="290" y="255.5" width="3" height="2" fill="#964c00"/><rect x="290" y="257.5" width="3" height="5.1" fill="#488500"/><rect x="290" y="262.6" width="3" height="2" fill="#964c00"/><rect x="290" y="264.6" width="3" height="5.1" fill="#488500"/><rect x="290" y="269.7" width="3" height="2" fill="#964c00"/><rect x="290" y="271.7" width="3" height="5.2" fill="#488500"/><rect x="290" y="276.9" width="3" height="2" fill="#964c00"/><rect x="290" y="278.9" width="3" height="5.1" fill="#488500"/><rect x="290" y="284" width="3" height="2" fill="#964c00"/><rect x="290" y="286" width="3" height="5.1" fill="#488500"/><rect x="290" y="291.1" width="3" height="2" fill="#964c00"/><rect x="290" y="293.1" width="3" height="5.1" fill="#488500"/><rect x="290" y="298.2" width="3" height="2" fill="#964c00"/><rect x="290" y="300.2" width="3" height="5.1" fill="#488500"/><rect x="290" y="305.3" width="3" height="2" fill="#964c00"/><rect x="290" y="307.3" width="3" height="5.2" fill="#488500"/><rect x="290" y="312.5" width="3" height="2" fill="#964c00"/><rect x="290" y="314.5" width="3" height="5.1" fill="#488500"/><rect x="290" y="319.6" width="3" height="2" fill="#964c00"/><rect x="290" y="321.6" width="3" height="5.1" fill="#488500"/><rect x="290" y="326.7" width="3" height="2" fill="#964c00"/><rect x="290" y="328.7" width="3" height="5.1" fill="#488500"/><rect x="290" y="333.8" width="3" height="2" fill="#964c00"/><rect x="290" y="335.8" width="3" height="5.1" fill="#488500"/><rect x="290" y="340.9" width="3" height="2" fill="#964c00"/><rect x="290" y="342.9" width="3" height="5.2" fill="#488500"/><rect x="290" y="348.1" width="3" height="2" fill="#964c00"/><rect x="290" y="350.1" width="3" height="5.1" fill="#488500"/><rect x="290" y="355.2" width="3" height="2" fill="#964c00"/><rect x="290" y="357.2" width="3" height="5.1" fill="#488500"/><rect x="290" y="362.3" width="3" height="2" fill="#964c00"/><rect x="290" y="364.3" width="3" height="5.1" fill="#488500"/><rect x="290" y="369.4" width="3" height="2" fill="#964c00"/><rect x="290" y="371.4" width="3" height="5.1" fill="#488500"/><rect x="290" y="376.5" width="3" height="2" fill="#964c00"/><rect x="290" y="378.5" width="3" height="5.2" fill="#488500"/><rect x="290" y="383.7" width="3" height="2" fill="#964c00"/><rect x="290" y="385.7" width="3" height="5.1" fill="#488500"/><rect x="290" y="390.8" width="3" height="2" fill="#964c00"/><rect x="290" y="392.8" width="3" height="5.1" fill="#488500"/><rect x="290" y="397.9" width="3" height="2" fill="#964c00"/><rect x="290" y="399.9" width="3" height="5.1" fill="#488500"/><rect x="290" y="405" width="3" height="2" fill="#964c00"/><rect x="290" y="407" width="3" height="5.1" fill="#488500"/><rect x="290" y="412.1" width="3" height="2" fill="#964c00"/><rect x="290" y="414.1" width="3" height="5.2" fill="#488500"/><rect x="290" y="419.3" width="3" height="2" fill="#964c00"/><rect x="290" y="421.3" width="3" height="5.1" fill="#488500"/><rect x="290" y="426.4" width="3" height="2" fill="#964c00"/><rect x="290" y="428.4" width="3" height="5.1" fill="#488500"/><rect x="290" y="433.5" width="3" height="2" fill="#964c00"/><rect x="290" y="435.5" width="3" height="6.5" fill="#488500"/><rect x="293" y="36" width="2" height="406" fill="#6f4c00"/><rect x="295" y="36" width="3" height="5.9" fill="#376600"/><rect x="295" y="41.9" width="3" height="2" fill="#964c00"/><rect x="295" y="43.9" width="3" height="5.1" fill="#376600"/><rect x="295" y="49" width="3" height="2" fill="#964c00"/><rect x="295" y="51" width="3" height="5.1" fill="#376600"/><rect x="295" y="56.1" width="3" height="2" fill="#964c00"/><rect x="295" y="58.1" width="3" height="5.2" fill="#376600"/><rect x="295" y="63.3" width="3" height="2" fill="#964c00"/><rect x="295" y="65.3" width="3" height="5.1" fill="#376600"/><rect x="295" y="70.4" width="3" height="2" fill="#964c00"/><rect x="295" y="72.4" width="3" height="5.1" fill="#376600"/><rect x="295" y="77.5" width="3" height="2" fill="#964c00"/><rect x="295" y="79.5" width="3" height="5.1" fill="#376600"/><rect x="295" y="84.6" width="3" height="2" fill="#964c00"/><rect x="295" y="86.6" width="3" height="5.1" fill="#376600"/><rect x="295" y="91.7" width="3" height="2" fill="#964c00"/><rect x="295" y="93.7" width="3" height="5.2" fill="#376600"/><rect x="295" y="98.9" width="3" height="2" fill="#964c00"/><rect x="295" y="100.9" width="3" height="5.1" fill="#376600"/><rect x="295" y="106" width="3" height="2" fill="#964c00"/><rect x="295" y="108" width="3" height="5.1" fill="#376600"/><rect x="295" y="113.1" width="3" height="2" fill="#964c00"/><rect x="295" y="115.1" width="3" height="5.1" fill="#376600"/><rect x="295" y="120.2" width="3" height="2" fill="#964c00"/><rect x="295" y="122.2" width="3" height="5.1" fill="#376600"/><rect x="295" y="127.3" width="3" height="2" fill="#964c00"/><rect x="295" y="129.3" width="3" height="5.2" fill="#376600"/><rect x="295" y="134.5" width="3" height="2" fill="#964c00"/><rect x="295" y="136.5" width="3" height="5.1" fill="#376600"/><rect x="295" y="141.6" width="3" height="2" fill="#964c00"/><rect x="295" y="143.6" width="3" height="5.1" fill="#376600"/><rect x="295" y="148.7" width="3" height="2" fill="#964c00"/><rect x="295" y="150.7" width="3" height="5.1" fill="#376600"/><rect x="295" y="155.8" width="3" height="2" fill="#964c00"/><rect x="295" y="157.8" width="3" height="5.1" fill="#376600"/><rect x="295" y="162.9" width="3" height="2" fill="#964c00"/><rect x="295" y="164.9" width="3" height="5.2" fill="#376600"/><rect x="295" y="170.1" width="3" height="2" fill="#964c00"/><rect x="295" y="172.1" width="3" height="5.1" fill="#376600"/><rect x="295" y="177.2" width="3" height="2" fill="#964c00"/><rect x="295" y="179.2" width="3" height="5.1" fill="#376600"/><rect x="295" y="184.3" width="3" height="2" fill="#964c00"/><rect x="295" y="186.3" width="3" height="5.1" fill="#376600"/><rect x="295" y="191.4" width="3" height="2" fill="#964c00"/><rect x="295" y="193.4" width="3" height="5.1" fill="#376600"/><rect x="295" y="198.5" width="3" height="2" fill="#964c00"/><rect x="295" y="200.5" width="3" height="5.2" fill="#376600"/><rect x="295" y="205.7" width="3" height="2" fill="#964c00"/><rect x="295" y="207.7" width="3" height="5.1" fill="#376600"/><rect x="295" y="212.8" width="3" height="2" fill="#964c00"/><rect x="295" y="214.8" width="3" height="5.1" fill="#376600"/><rect x="295" y="219.9" width="3" height="2" fill="#964c00"/><rect x="295" y="221.9" width="3" height="5.1" fill="#376600"/><rect x="295" y="227" width="3" height="2" fill="#964c00"/><rect x="295" y="229" width="3" height="5.1" fill="#376600"/><rect x="295" y="234.1" width="3" height="2" fill="#964c00"/><rect x="295" y="236.1" width="3" height="5.2" fill="#376600"/><rect x="295" y="241.3" width="3" height="2" fill="#964c00"/><rect x="295" y="243.3" width="3" height="5.1" fill="#376600"/><rect x="295" y="248.4" width="3" height="2" fill="#964c00"/><rect x="295" y="250.4" width="3" height="5.1" fill="#376600"/><rect x="295" y="255.5" width="3" height="2" fill="#964c00"/><rect x="295" y="257.5" width="3" height="5.1" fill="#376600"/><rect x="295" y="262.6" width="3" height="2" fill="#964c00"/><rect x="295" y="264.6" width="3" height="5.1" fill="#376600"/><rect x="295" y="269.7" width="3" height="2" fill="#964c00"/><rect x="295" y="271.7" width="3" height="5.2" fill="#376600"/><rect x="295" y="276.9" width="3" height="2" fill="#964c00"/><rect x="295" y="278.9" width="3" height="5.1" fill="#376600"/><rect x="295" y="284" width="3" height="2" fill="#964c00"/><rect x="295" y="286" width="3" height="5.1" fill="#376600"/><rect x="295" y="291.1" width="3" height="2" fill="#964c00"/><rect x="295" y="293.1" width="3" height="5.1" fill="#376600"/><rect x="295" y="298.2" width="3" height="2" fill="#964c00"/><rect x="295" y="300.2" width="3" height="5.1" fill="#376600"/><rect x="295" y="305.3" width="3" height="2" fill="#964c00"/><rect x="295" y="307.3" width="3" height="5.2" fill="#376600"/><rect x="295" y="312.5" width="3" height="2" fill="#964c00"/><rect x="295" y="314.5" width="3" height="5.1" fill="#376600"/><rect x="295" y="319.6" width="3" height="2" fill="#964c00"/><rect x="295" y="321.6" width="3" height="5.1" fill="#376600"/><rect x="295" y="326.7" width="3" height="2" fill="#964c00"/><rect x="295" y="328.7" width="3" height="5.1" fill="#376600"/><rect x="295" y="333.8" width="3" height="2" fill="#964c00"/><rect x="295" y="335.8" width="3" height="5.1" fill="#376600"/><rect x="295" y="340.9" width="3" height="2" fill="#964c00"/><rect x="295" y="342.9" width="3" height="5.2" fill="#376600"/><rect x="295" y="348.1" width="3" height="2" fill="#964c00"/><rect x="295" y="350.1" width="3" height="5.1" fill="#376600"/><rect x="295" y="355.2" width="3" height="2" fill="#964c00"/><rect x="295" y="357.2" width="3" height="5.1" fill="#376600"/><rect x="295" y="362.3" width="3" height="2" fill="#964c00"/><rect x="295" y="364.3" width="3" height="5.1" fill="#376600"/><rect x="295" y="369.4" width="3" height="2" fill="#964c00"/><rect x="295" y="371.4" width="3" height="5.1" fill="#376600"/><rect x="295" y="376.5" width="3" height="2" fill="#964c00"/><rect x="295" y="378.5" width="3" height="5.2" fill="#376600"/><rect x="295" y="383.7" width="3" height="2" fill="#964c00"/><rect x="295" y="385.7" width="3" height="5.1" fill="#376600"/><rect x="295" y="390.8" width="3" height="2" fill="#964c00"/><rect x="295" y="392.8" width="3" height="5.1" fill="#376600"/><rect x="295" y="397.9" width="3" height="2" fill="#964c00"/><rect x="295" y="399.9" width="3" height="5.1" fill="#376600"/><rect x="295" y="405" width="3" height="2" fill="#964c00"/><rect x="295" y="407" width="3" height="5.1" fill="#376600"/><rect x="295" y="412.1" width="3" height="2" fill="#964c00"/><rect x="295" y="414.1" width="3" height="5.2" fill="#376600"/><rect x="295" y="419.3" width="3" height="2" fill="#964c00"/><rect x="295" y="421.3" width="3" height="5.1" fill="#376600"/><rect x="295" y="426.4" width="3" height="2" fill="#964c00"/><rect x="295" y="428.4" width="3" height="5.1" fill="#376600"/><rect x="295" y="433.5" width="3" height="2" fill="#964c00"/><rect x="295" y="435.5" width="3" height="6.5" fill="#376600"/><rect x="298" y="36" width="1" height="406" fill="#376600"/><rect x="299" y="36" width="2" height="406" fill="#376600"/><rect x="301" y="36" width="2" height="406" fill="#438500"/><rect x="303" y="36" width="6" height="406" fill="#2f6600"/><rect x="309" y="36" width="2" height="406" fill="#408500"/><rect x="311" y="36" width="2" height="406" fill="#326600"/><rect x="313" y="36" width="1" height="406" fill="#50ad00"/><rect x="314" y="36" width="4.5" height="406" fill="#2c6600"/><rect x="318.5" y="36" width="1.5" height="406" fill="#594c00"/><rect x="320" y="36" width="2" height="406" fill="#3a6600"/><rect x="322" y="36" width="1" height="406" fill="#644c00"/><rect x="323" y="36" width="4" height="406" fill="#488500"/><rect x="327" y="36" width="1" height="406" fill="#854c00"/><rect x="328" y="36" width="1" height="406" fill="#984c00"/><rect x="329" y="36" width="3" height="406" fill="#b14c00"/><rect x="332" y="36" width="2" height="406" fill="#9b4c00"/><rect x="334" y="36" width="3" height="406" fill="#77ad00"/><rect x="337" y="36" width="3" height="406" fill="#64ad00"/><rect x="340" y="36" width="2" height="406" fill="#6c4c00"/><rect x="342" y="36" width="1" height="406" fill="#594c00"/><rect x="343" y="36" width="4" height="406" fill="#69ad00"/><rect x="347" y="36" width="2" height="406" fill="#326600"/><rect x="349" y="36" width="2" height="406" fill="#594c00"/><rect x="351" y="36" width="2" height="406" fill="#326600"/><rect x="353" y="36" width="1" height="406" fill="#614c00"/><rect x="354" y="36" width="2" height="406" fill="#3a6600"/><rect x="356" y="36" width="3" height="406" fill="#5ead00"/><rect x="359" y="36" width="10" height="406" fill="#275e00"/><rect x="369" y="36" width="2" height="406" fill="#2c5e00"/><rect x="371" y="36" width="2" height="406" fill="#535e00"/><rect x="373" y="36" width="6" height="406" fill="#275e00"/><rect x="379" y="36" width="2" height="14" fill="#4e5e00"/><rect x="379" y="50" width="2" height="14" fill="#645e00"/><rect x="379" y="64" width="2" height="3.5" fill="#4e5e00"/><rect x="379" y="67.5" width="2" height="6" fill="#645e00"/><rect x="379" y="73.5" width="2" height="9.5" fill="#4e5e00"/><rect x="379" y="83" width="2" height="18" fill="#645e00"/><rect x="379" y="101" width="2" height="341" fill="#4e5e00"/><rect x="381" y="36" width="4" height="406" fill="#275e00"/><rect x="385" y="36" width="2" height="406" fill="#455e00"/><rect x="387" y="36" width="4" height="406" fill="#325e00"/><rect x="391" y="36" width="2" height="406" fill="#644c00"/><rect x="393" y="36" width="2" height="406" fill="#4b5e00"/><rect x="395" y="36" width="13" height="406" fill="#1e5e00"/><rect x="408" y="36" width="2" height="406" fill="#435e00"/><rect x="410" y="36" width="3" height="406" fill="#215e00"/><rect x="413" y="36" width="2" height="406" fill="#355e00"/><rect x="415" y="36" width="5" height="406" fill="#275e00"/><rect x="420" y="36" width="2" height="406" fill="#644c00"/><rect x="422" y="36" width="3" height="406" fill="#2f5e00"/><rect x="425" y="36" width="2" height="406" fill="#455e00"/><rect x="427" y="36" width="2" height="406" fill="#2f5e00"/><rect x="429" y="36" width="2" height="406" fill="#6c4c00"/><rect x="431" y="36" width="4" height="406" fill="#4b5e00"/><rect x="435" y="36" width="1" height="406" fill="#355e00"/><rect x="436" y="36" width="4" height="406" fill="#535e00"/><rect x="440" y="36" width="2" height="406" fill="#3d5e00"/><rect x="442" y="36" width="2" height="406" fill="#774c00"/><rect x="444" y="36" width="2" height="406" fill="#674c00"/><rect x="446" y="36" width="8" height="406" fill="#188500"/><rect x="454" y="36" width="1" height="406" fill="#324200"/><rect x="455" y="36" width="18" height="406" fill="#158500"/><rect x="473" y="36" width="1.5" height="69" fill="#158500"/><rect x="473" y="105" width="1.5" height="22" fill="#354200"/><rect x="473" y="127" width="1.5" height="315" fill="#158500"/><rect x="474.5" y="36" width="46" height="406" fill="#158500"/><rect x="520.5" y="36" width="2.5" height="406" fill="#274200"/><rect x="523" y="36" width="3" height="406" fill="#1c8500"/><rect x="526" y="36" width="1" height="406" fill="#244200"/><rect x="527" y="36" width="1.5" height="406" fill="#3a4200"/><rect x="528.5" y="36" width="5" height="406" fill="#218500"/><rect x="533.5" y="36" width="3.5" height="406" fill="#2a8500"/><rect x="537" y="36" width="33" height="406" fill="#0a8500"/><rect x="570" y="36" width="1" height="406" fill="#354200"/><rect x="571" y="36" width="22.5" height="406" fill="#0a8500"/><rect x="593.5" y="36" width="1.5" height="179" fill="#2f4200"/><rect x="593.5" y="215" width="1.5" height="27" fill="#3d4200"/><rect x="593.5" y="242" width="1.5" height="200" fill="#2f4200"/><rect x="595" y="36" width="8.5" height="406" fill="#0a8500"/><rect x="603.5" y="36" width="1.5" height="254" fill="#354200"/><rect x="603.5" y="290" width="1.5" height="140" fill="#404200"/><rect x="603.5" y="430" width="1.5" height="12" fill="#354200"/><rect x="605" y="36" width="7" height="406" fill="#0e8500"/><rect x="612" y="36" width="1.5" height="406" fill="#2f4200"/><rect x="613.5" y="36" width="106.5" height="406" fill="#0e8500"/><rect x="720" y="36" width="60" height="406" fill="#0e8500"/><rect x="780" y="36" width="1" height="406" fill="#2a4200"/><rect x="781" y="36" width="25" height="406" fill="#0e8500"/><rect x="806" y="36" width="1" height="406" fill="#244200"/><rect x="807" y="36" width="501" height="406" fill="#0e8500"/>
<rect x="446" y="45" width="862" height="2.5" fill="url(#b0)"/><rect x="446" y="50" width="862" height="2" fill="url(#b1)"/><rect x="446" y="52" width="862" height="2" fill="url(#b2)"/><rect x="446" y="64" width="862" height="2" fill="url(#b2)"/><rect x="446" y="72" width="862" height="2" fill="url(#b0)"/><rect x="446" y="78" width="862" height="2" fill="url(#b1)"/><rect x="446" y="90" width="862" height="4" fill="url(#b2)"/><rect x="446" y="104" width="862" height="2" fill="url(#b3)"/><rect x="446" y="111" width="862" height="2" fill="url(#b0)"/><rect x="446" y="117" width="862" height="2" fill="url(#b2)"/><rect x="446" y="119" width="862" height="2" fill="url(#b1)"/><rect x="446" y="131" width="862" height="2" fill="url(#b4)"/><rect x="446" y="143" width="862" height="2" fill="url(#b1)"/><rect x="446" y="145" width="862" height="2" fill="url(#b5)"/><rect x="446" y="149" width="862" height="2" fill="url(#b0)"/><rect x="446" y="159" width="862" height="2" fill="url(#b1)"/><rect x="446" y="169" width="862" height="2" fill="url(#b0)"/><rect x="446" y="174" width="862" height="2" fill="url(#b3)"/><rect x="446" y="178" width="862" height="2" fill="url(#b0)"/><rect x="446" y="184" width="862" height="2" fill="url(#b0)"/><rect x="446" y="190" width="862" height="2" fill="url(#b0)"/><rect x="446" y="204" width="862" height="2" fill="url(#b0)"/><rect x="446" y="210" width="862" height="2" fill="url(#b2)"/><rect x="446" y="222" width="862" height="2" fill="url(#b0)"/><rect x="446" y="228" width="862" height="2" fill="url(#b3)"/><rect x="446" y="236" width="862" height="3" fill="url(#b1)"/><rect x="446" y="239" width="862" height="1.5" fill="url(#b5)"/><rect x="446" y="263" width="862" height="2" fill="url(#b2)"/><rect x="446" y="277" width="862" height="2" fill="url(#b1)"/><rect x="446" y="283" width="862" height="3" fill="url(#b0)"/><rect x="446" y="295" width="862" height="2" fill="url(#b1)"/><rect x="446" y="308" width="862" height="2" fill="url(#b5)"/><rect x="446" y="310" width="862" height="3" fill="url(#b3)"/><rect x="446" y="316" width="862" height="2" fill="url(#b1)"/><rect x="446" y="340" width="862" height="2" fill="url(#b3)"/><rect x="446" y="346" width="862" height="2" fill="url(#b1)"/><rect x="446" y="348" width="862" height="2" fill="url(#b5)"/><rect x="446" y="353.5" width="862" height="2.5" fill="url(#b1)"/><rect x="446" y="362" width="862" height="3" fill="url(#b0)"/><rect x="446" y="369" width="862" height="2" fill="url(#b0)"/><rect x="446" y="375" width="862" height="2" fill="url(#b5)"/><rect x="446" y="381" width="862" height="5" fill="url(#b0)"/><rect x="446" y="389" width="862" height="2" fill="url(#b2)"/><rect x="446" y="393" width="862" height="2" fill="url(#b0)"/><rect x="446" y="395" width="862" height="2" fill="url(#b1)"/><rect x="446" y="407" width="862" height="2" fill="url(#b2)"/><rect x="446" y="409" width="862" height="2" fill="url(#b5)"/><rect x="446" y="413" width="862" height="2" fill="url(#b2)"/><rect x="446" y="421" width="862" height="2" fill="url(#b1)"/><rect x="446" y="425" width="862" height="2" fill="url(#b3)"/>
<rect class="l" x="139" y="45" width="220" height="2.5" fill="#370000"/><rect class="l" x="20" y="45" width="65.5" height="2.5" fill="#060000"/><rect class="l" x="139" y="50" width="220" height="2" fill="#3e0000"/><rect class="l" x="20" y="50" width="65.5" height="2" fill="#0c0000"/><rect class="l" x="139" y="52" width="220" height="2" fill="#2f0000"/><rect class="l" x="139" y="64" width="220" height="2" fill="#320000"/><rect class="l" x="20" y="64" width="65.5" height="2" fill="#000000"/><rect class="l" x="139" y="72" width="220" height="2" fill="#370000"/><rect class="l" x="20" y="72" width="65.5" height="2" fill="#060000"/><rect class="l" x="139" y="78" width="220" height="2" fill="#3e0000"/><rect class="l" x="20" y="78" width="65.5" height="2" fill="#0c0000"/><rect class="l" x="139" y="90" width="220" height="4" fill="#2f0000"/><rect class="l" x="139" y="104" width="220" height="2" fill="#210000"/><rect class="l" x="139" y="111" width="220" height="2" fill="#370000"/><rect class="l" x="20" y="111" width="65.5" height="2" fill="#060000"/><rect class="l" x="139" y="117" width="220" height="2" fill="#340000"/><rect class="l" x="20" y="117" width="65.5" height="2" fill="#020000"/><rect class="l" x="139" y="119" width="220" height="2" fill="#3c0000"/><rect class="l" x="20" y="119" width="65.5" height="2" fill="#0a0000"/><rect class="l" x="139" y="131" width="220" height="2" fill="#270000"/><rect class="l" x="139" y="143" width="220" height="2" fill="#3e0000"/><rect class="l" x="20" y="143" width="65.5" height="2" fill="#0c0000"/><rect class="l" x="139" y="145" width="220" height="2" fill="#2c0000"/><rect class="l" x="139" y="149" width="220" height="2" fill="#370000"/><rect class="l" x="20" y="149" width="65.5" height="2" fill="#060000"/><rect class="l" x="139" y="159" width="220" height="2" fill="#3e0000"/><rect class="l" x="20" y="159" width="65.5" height="2" fill="#0c0000"/><rect class="l" x="139" y="169" width="220" height="2" fill="#370000"/><rect class="l" x="20" y="169" width="65.5" height="2" fill="#060000"/><rect class="l" x="139" y="174" width="220" height="2" fill="#210000"/><rect class="l" x="139" y="178" width="220" height="2" fill="#370000"/><rect class="l" x="20" y="178" width="65.5" height="2" fill="#060000"/><rect class="l" x="139" y="184" width="220" height="2" fill="#350000"/><rect class="l" x="20" y="184" width="65.5" height="2" fill="#040000"/><rect class="l" x="139" y="190" width="220" height="2" fill="#390000"/><rect class="l" x="20" y="190" width="65.5" height="2" fill="#070000"/><rect class="l" x="139" y="204" width="220" height="2" fill="#370000"/><rect class="l" x="20" y="204" width="65.5" height="2" fill="#060000"/><rect class="l" x="139" y="210" width="220" height="2" fill="#2f0000"/><rect class="l" x="139" y="222" width="220" height="2" fill="#370000"/><rect class="l" x="20" y="222" width="65.5" height="2" fill="#060000"/><rect class="l" x="139" y="228" width="220" height="2" fill="#210000"/><rect class="l" x="139" y="236" width="220" height="3" fill="#3e0000"/><rect class="l" x="20" y="236" width="65.5" height="3" fill="#0c0000"/><rect class="l" x="139" y="239" width="220" height="1.5" fill="#2b0000"/><rect class="l" x="139" y="263" width="220" height="2" fill="#320000"/><rect class="l" x="20" y="263" width="65.5" height="2" fill="#000000"/><rect class="l" x="139" y="277" width="220" height="2" fill="#3e0000"/><rect class="l" x="20" y="277" width="65.5" height="2" fill="#0c0000"/><rect class="l" x="139" y="283" width="220" height="3" fill="#370000"/><rect class="l" x="20" y="283" width="65.5" height="3" fill="#060000"/><rect class="l" x="139" y="295" width="220" height="2" fill="#3e0000"/><rect class="l" x="20" y="295" width="65.5" height="2" fill="#0c0000"/><rect class="l" x="139" y="308" width="220" height="2" fill="#2c0000"/><rect class="l" x="139" y="310" width="220" height="3" fill="#200000"/><rect class="l" x="139" y="316" width="220" height="2" fill="#3e0000"/><rect class="l" x="20" y="316" width="65.5" height="2" fill="#0c0000"/><rect class="l" x="139" y="340" width="220" height="2" fill="#200000"/><rect class="l" x="139" y="346" width="220" height="2" fill="#3e0000"/><rect class="l" x="20" y="346" width="65.5" height="2" fill="#0c0000"/><rect class="l" x="139" y="348" width="220" height="2" fill="#2c0000"/><rect class="l" x="139" y="353.5" width="220" height="2.5" fill="#3e0000"/><rect class="l" x="20" y="353.5" width="65.5" height="2.5" fill="#0c0000"/><rect class="l" x="139" y="362" width="220" height="3" fill="#390000"/><rect class="l" x="20" y="362" width="65.5" height="3" fill="#070000"/><rect class="l" x="139" y="369" width="220" height="2" fill="#370000"/><rect class="l" x="20" y="369" width="65.5" height="2" fill="#060000"/><rect class="l" x="139" y="375" width="220" height="2" fill="#2b0000"/><rect class="l" x="139" y="381" width="220" height="5" fill="#370000"/><rect class="l" x="20" y="381" width="65.5" height="5" fill="#060000"/><rect class="l" x="139" y="389" width="220" height="2" fill="#320000"/><rect class="l" x="20" y="389" width="65.5" height="2" fill="#000000"/><rect class="l" x="139" y="393" width="220" height="2" fill="#370000"/><rect class="l" x="20" y="393" width="65.5" height="2" fill="#060000"/><rect class="l" x="139" y="395" width="220" height="2" fill="#3e0000"/><rect class="l" x="20" y="395" width="65.5" height="2" fill="#0c0000"/><rect class="l" x="139" y="407" width="220" height="2" fill="#320000"/><rect class="l" x="20" y="407" width="65.5" height="2" fill="#000000"/><rect class="l" x="139" y="409" width="220" height="2" fill="#2b0000"/><rect class="l" x="139" y="413" width="220" height="2" fill="#320000"/><rect class="l" x="20" y="413" width="65.5" height="2" fill="#000000"/><rect class="l" x="139" y="421" width="220" height="2" fill="#3e0000"/><rect class="l" x="20" y="421" width="65.5" height="2" fill="#0c0000"/><rect class="l" x="139" y="425" width="220" height="2" fill="#210000"/><rect class="l" x="148" y="314" width="28" height="14" fill="#4b0000"/><rect class="l" x="205" y="314" width="37" height="14" fill="#4b0000"/><rect class="l" x="293" y="314" width="37" height="14" fill="#4c0000"/><rect class="l" x="89" y="330" width="41" height="2" fill="#430000"/><rect class="l" x="130" y="330" width="197" height="2" fill="#5d0000"/><rect class="l" x="327" y="330" width="23" height="2" fill="#740000"/>
</g></g>
<g fill="none" stroke="#000" stroke-width="1.1"><rect x="19.5" y="35.5" width="1288" height="407"/><rect x="1320.5" y="35.5" width="26" height="407" fill="url(#cb)"/><path d="M19.5 442.5v4.9M62.5 442.5v4.9M105.5 442.5v4.9M148.5 442.5v4.9M191.5 442.5v4.9M234.5 442.5v4.9M277.5 442.5v4.9M320.5 442.5v4.9M363.5 442.5v4.9M406.5 442.5v4.9M449.5 442.5v4.9M492.5 442.5v4.9M535.5 442.5v4.9M578.5 442.5v4.9M621.5 442.5v4.9M664.5 442.5v4.9M707.5 442.5v4.9M750.5 442.5v4.9M793.5 442.5v4.9M836.5 442.5v4.9M879.5 442.5v4.9M922.5 442.5v4.9M965.5 442.5v4.9M1008.5 442.5v4.9M1051.5 442.5v4.9M1094.5 442.5v4.9M1137.5 442.5v4.9M1180.5 442.5v4.9M1223.5 442.5v4.9M1266.5 442.5v4.9"/><path d="M1346.5 97.5h5.3M1346.5 185.5h5.3M1346.5 274.5h5.3M1346.5 362.5h5.3"/></g>
<g opacity="0.999"><g font-size="13.89px" text-anchor="middle"><text x="20.4" y="462">0</text><text x="63.4" y="462">1</text><text x="106.4" y="462">2</text><text x="149.4" y="462">3</text><text x="192.4" y="462">4</text><text x="235.4" y="462">5</text><text x="278.4" y="462">6</text><text x="321.4" y="462">7</text><text x="364.4" y="462">8</text><text x="407.4" y="462">9</text><text x="449.85" y="462">10</text><text x="492.85" y="462">11</text><text x="535.85" y="462">12</text><text x="578.85" y="462">13</text><text x="621.85" y="462">14</text><text x="664.85" y="462">15</text><text x="707.85" y="462">16</text><text x="750.85" y="462">17</text><text x="793.85" y="462">18</text><text x="836.85" y="462">19</text><text x="879.85" y="462">20</text><text x="922.85" y="462">21</text><text x="965.85" y="462">22</text><text x="1008.85" y="462">23</text><text x="1051.85" y="462">24</text><text x="1094.85" y="462">25</text><text x="1137.85" y="462">26</text><text x="1180.85" y="462">27</text><text x="1223.85" y="462">28</text><text x="1266.85" y="462">29</text><text x="663.5" y="482">MHz</text></g>
<g font-size="13.89px"><text x="1355.6" y="102.6">−20</text><text x="1355.6" y="191.1">−40</text><text x="1355.6" y="279.6">−60</text><text x="1355.6" y="368.1">−80</text></g>
<text x="663.3" y="27" font-size="16.67px" text-anchor="middle" letter-spacing="0.017">14/01/2025 00:30 local time - KIWI_2 - Skywire loop [SNR: 29 dB]</text>
<text x="1333.7" y="26.6" font-size="16.67px" text-anchor="middle">dBm</text>
</g>
</svg>
</body></html>
